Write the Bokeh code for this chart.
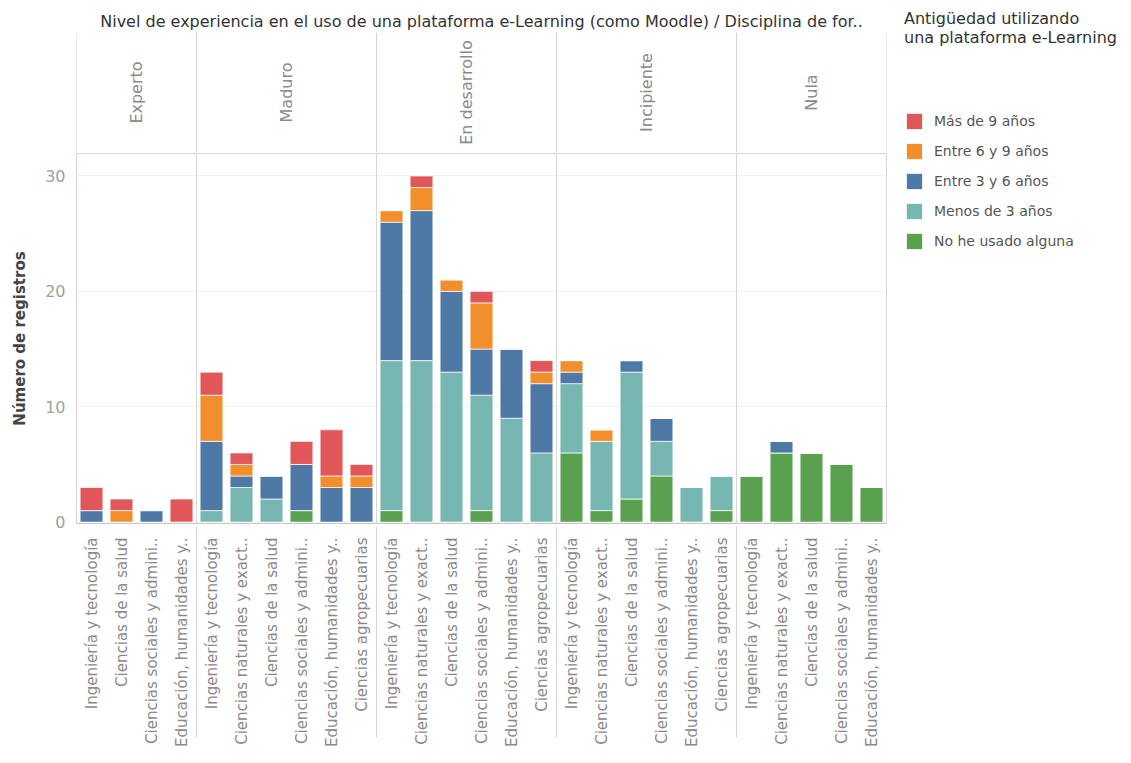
import numpy as np
from bokeh.plotting import figure
from bokeh.models import FactorRange, ColumnDataSource, Span, Range1d, FixedTicker, Legend, LegendItem
from bokeh.layouts import row, column
from bokeh.core.properties import value
from bokeh.embed import file_html
from bokeh.resources import INLINE

# ---------------- data ----------------
levels = ["Experto", "Maduro", "En desarrollo", "Incipiente", "Nula"]
disc_experto = ["Ingeniería y tecnología", "Ciencias de la salud",
                "Ciencias sociales y admini..", "Educación, humanidades y.."]
disc_maduro = ["Ingeniería y tecnología", "Ciencias naturales y exact..", "Ciencias de la salud",
               "Ciencias sociales y admini..", "Educación, humanidades y..", "Ciencias agropecuarias"]
disc_desarrollo = list(disc_maduro)
disc_incipiente = list(disc_maduro)
disc_nula = ["Ingeniería y tecnología", "Ciencias naturales y exact..", "Ciencias de la salud",
             "Ciencias sociales y admini..", "Educación, humanidades y.."]

series_names = ["No he usado alguna", "Menos de 3 años", "Entre 3 y 6 años",
                "Entre 6 y 9 años", "Más de 9 años"]
series_colors = ["#59a14f", "#76b7b2", "#4e79a7", "#f28e2b", "#e15759"]

no_he_usado = [0, 0, 0, 0,  0, 0, 0, 1, 0, 0,  1, 0, 0, 1, 0, 0,  6, 1, 2, 4, 0, 1,  4, 6, 6, 5, 3]
menos_3 =     [0, 0, 0, 0,  1, 3, 2, 0, 0, 0,  13, 14, 13, 10, 9, 6,  6, 6, 11, 3, 3, 3,  0, 0, 0, 0, 0]
entre_3_6 =   [1, 0, 1, 0,  6, 1, 2, 4, 3, 3,  12, 13, 7, 4, 6, 6,  1, 0, 1, 2, 0, 0,  0, 1, 0, 0, 0]
entre_6_9 =   [0, 1, 0, 0,  4, 1, 0, 0, 1, 1,  1, 2, 1, 4, 0, 1,  1, 1, 0, 0, 0, 0,  0, 0, 0, 0, 0]
mas_9 =       [2, 1, 0, 2,  2, 1, 0, 2, 4, 1,  0, 1, 0, 1, 0, 1,  0, 0, 0, 0, 0, 0,  0, 0, 0, 0, 0]

y_ticks = [0, 10, 20, 30]

title_text = "Nivel de experiencia en el uso de una plataforma e-Learning (como Moodle) / Disciplina de for.."
legend_title = "Antigüedad utilizando\nuna plataforma e-Learning"
y_title = "Número de registros"

# ---------------- build ----------------
groups = [disc_experto, disc_maduro, disc_desarrollo, disc_incipiente, disc_nula]
factors = [(lvl, d) for lvl, ds in zip(levels, groups) for d in ds]
counts = [len(ds) for ds in groups]
keys = ["s0", "s1", "s2", "s3", "s4"]
src = ColumnDataSource(dict(x=factors, s0=no_he_usado, s1=menos_3, s2=entre_3_6, s3=entre_6_9, s4=mas_9))

x_range = FactorRange(*factors, factor_padding=0, group_padding=0, subgroup_padding=0, range_padding=0)

FONT = value("DejaVu Sans")
GRID = "#d6d6d6"
BAR_KW = dict(width=0.76, line_color="white", line_width=1, line_alpha=0.7)

# header figure
header = figure(x_range=x_range, y_range=Range1d(0, 1), width=888, height=152,
                min_border_left=76, min_border_right=2, min_border_top=32, min_border_bottom=0,
                x_axis_type=None, y_axis_type=None, output_backend="svg", toolbar_location=None,
                title=title_text)
header.grid.visible = False
header.outline_line_color = None
header.title.align = "center"
header.title.text_font = "DejaVu Sans"
header.title.text_font_size = "16px"
header.title.text_font_style = "normal"
header.title.text_color = "#333333"
header.title.standoff = 4
header.text(x=levels, y=[0.5] * len(levels), text=levels, angle=np.pi / 2,
            text_align="center", text_baseline="middle", text_font=FONT,
            text_font_size="16px", text_color="#8a8a8a")
for b in np.concatenate([[0], np.cumsum(counts)]):
    header.add_layout(Span(location=float(b), dimension="height", line_color=GRID, line_width=1))

# main figure
main = figure(x_range=x_range, y_range=Range1d(-0.12, 31.95), width=888, height=608,
              min_border_left=76, min_border_right=2, min_border_top=1, min_border_bottom=237,
              output_backend="svg", toolbar_location=None)
main.vbar_stack(keys, x="x", color=series_colors, source=src, **BAR_KW)
for b in np.cumsum(counts)[:-1]:
    main.add_layout(Span(location=float(b), dimension="height", line_color=GRID, line_width=1))

main.outline_line_color = GRID
main.xgrid.visible = False
main.ygrid.ticker = FixedTicker(ticks=y_ticks)
main.ygrid.grid_line_color = "#f0f0f0"

ya = main.yaxis[0]
ya.ticker = FixedTicker(ticks=y_ticks)
ya.axis_line_color = None
ya.major_tick_line_color = None
ya.minor_tick_line_color = None
ya.major_label_text_font = "DejaVu Sans"
ya.major_label_text_font_size = "16px"
ya.major_label_text_color = "#a0a0a0"
ya.major_label_standoff = 5
ya.axis_label = y_title
ya.axis_label_text_font = "DejaVu Sans"
ya.axis_label_text_font_size = "15px"
ya.axis_label_text_font_style = "bold"
ya.axis_label_text_color = "#444444"
ya.axis_label_standoff = 13

xa = main.xaxis[0]
xa.major_label_orientation = np.pi / 2
xa.major_label_text_font = "DejaVu Sans"
xa.major_label_text_font_size = "15px"
xa.major_label_text_color = "#8a8a8a"
xa.major_label_standoff = 8
xa.major_tick_line_color = None
xa.minor_tick_line_color = None
xa.axis_line_color = "#c8c8c8"
xa.group_text_font_size = "0px"
xa.group_text_alpha = 0
xa.separator_line_color = GRID
xa.separator_line_width = 1

# legend figure (its bars share the data but lie far outside its visible y range)
leg = figure(width=237, height=760, x_range=x_range, y_range=Range1d(1000, 1001),
             min_border_left=16, min_border_right=0, min_border_top=9, min_border_bottom=0,
             x_axis_type=None, y_axis_type=None, output_backend="svg", toolbar_location=None)
leg.grid.visible = False
leg.outline_line_color = None
leg_renderers = leg.vbar_stack(keys, x="x", color=series_colors, source=src, **BAR_KW)
items = [LegendItem(label=name, renderers=[r]) for name, r in zip(series_names, leg_renderers)][::-1]
legend = Legend(items=items, location="top_left", title=legend_title,
                margin=0, padding=2, spacing=10, glyph_width=20, glyph_height=20,
                label_height=20, label_standoff=10, title_standoff=64,
                border_line_color=None, background_fill_alpha=0,
                label_text_font="DejaVu Sans", label_text_font_size="14px",
                label_text_color="#555555",
                title_text_font="DejaVu Sans", title_text_font_size="16px",
                title_text_font_style="normal", title_text_color="#333333")
leg.add_layout(legend)

layout = row(column(header, main), leg)
open("out.html", "w").write(file_html(layout, INLINE))
